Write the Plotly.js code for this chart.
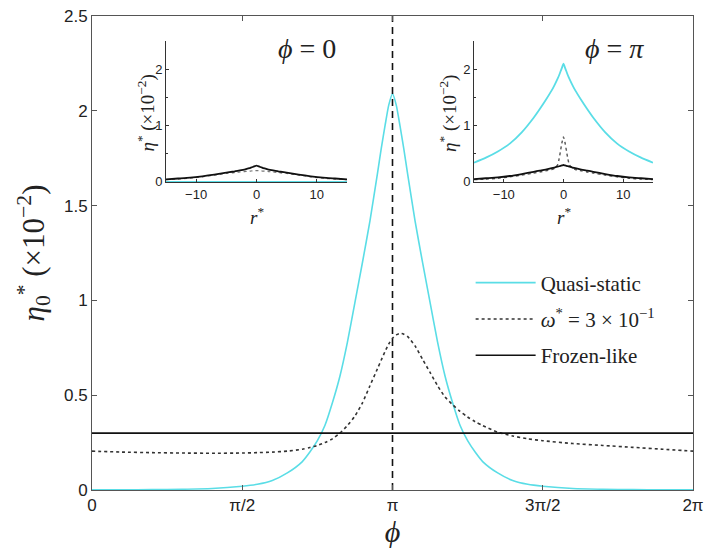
<!DOCTYPE html>
<html><head><meta charset="utf-8">
<script src="https://cdn.plot.ly/plotly-3.0.1.min.js"></script>
<style>html,body{margin:0;padding:0;background:#fff}#chart{width:709px;height:557px}</style>
</head><body><div id="chart"></div><script>
// ---- main panel: phi in units of pi ----
const phiOverPi = [0, 0.1, 0.2, 0.3, 0.4, 0.5, 0.55, 0.6, 0.65, 0.7, 0.725, 0.75, 0.775, 0.8, 0.825, 0.85, 0.875, 0.9, 0.925, 0.95, 0.9625, 0.975, 0.9875, 1.0, 1.0125, 1.025, 1.0375, 1.05, 1.075, 1.1, 1.125, 1.15, 1.175, 1.2, 1.225, 1.25, 1.275, 1.3, 1.35, 1.4, 1.45, 1.5, 1.6, 1.7, 1.8, 1.9, 2.0];
const quasiStatic = [0.001, 0.001, 0.002, 0.004, 0.008, 0.02, 0.03, 0.05, 0.09, 0.15, 0.2, 0.26, 0.34, 0.46, 0.6, 0.78, 0.99, 1.2, 1.42, 1.67, 1.8, 1.92, 2.03, 2.09, 2.03, 1.92, 1.8, 1.67, 1.42, 1.2, 0.99, 0.78, 0.6, 0.46, 0.34, 0.26, 0.2, 0.15, 0.09, 0.05, 0.03, 0.02, 0.008, 0.004, 0.002, 0.001, 0.001];
const omegaCase = [0.205, 0.2, 0.197, 0.195, 0.194, 0.195, 0.197, 0.2, 0.205, 0.215, 0.224, 0.235, 0.25, 0.27, 0.3, 0.34, 0.39, 0.46, 0.55, 0.64, 0.685, 0.73, 0.77, 0.8, 0.818, 0.826, 0.822, 0.81, 0.76, 0.69, 0.62, 0.55, 0.49, 0.45, 0.415, 0.385, 0.36, 0.34, 0.305, 0.285, 0.27, 0.26, 0.245, 0.235, 0.225, 0.215, 0.205];
const frozenPhiOverPi = [0, 0.5, 1, 1.5, 2];
const frozenLike = [0.3, 0.3, 0.3, 0.3, 0.3];
const markerPhiOverPi = [1, 1];
const markerY = [0, 2.5];
const xTickVals = [0, 0.5, 1, 1.5, 2];
const xTickText = ['0', 'π/2', 'π', '3π/2', '2π'];

// ---- insets ----
const rStar = [-15, -13, -11, -9, -7, -5, -4, -3, -2, -1.5, -1, -0.75, -0.5, -0.25, 0, 0.25, 0.5, 0.75, 1, 1.5, 2, 3, 4, 5, 7, 9, 11, 13, 15];
// phi = 0
const inset0Quasi = [0,0,0,0,0,0,0,0,0,0,0,0,0,0,0,0,0,0,0,0,0,0,0,0,0,0,0,0,0];
const inset0Omega = [0.04, 0.05, 0.065, 0.09, 0.12, 0.15, 0.16, 0.172, 0.183, 0.188, 0.193, 0.195, 0.197, 0.199, 0.2, 0.199, 0.197, 0.195, 0.193, 0.188, 0.183, 0.172, 0.16, 0.15, 0.12, 0.09, 0.065, 0.05, 0.04];
const inset0Frozen = [0.045, 0.06, 0.075, 0.1, 0.13, 0.165, 0.18, 0.2, 0.22, 0.235, 0.25, 0.26, 0.27, 0.28, 0.29, 0.28, 0.27, 0.26, 0.25, 0.235, 0.22, 0.2, 0.18, 0.165, 0.13, 0.1, 0.075, 0.06, 0.045];
// phi = pi
const insetPiQuasi = [0.34, 0.43, 0.54, 0.68, 0.88, 1.14, 1.29, 1.45, 1.62, 1.72, 1.83, 1.89, 1.96, 2.03, 2.1, 2.03, 1.96, 1.89, 1.83, 1.72, 1.62, 1.45, 1.29, 1.14, 0.88, 0.68, 0.54, 0.43, 0.34];
const insetPiOmega = [0.04, 0.05, 0.065, 0.09, 0.12, 0.155, 0.175, 0.195, 0.22, 0.24, 0.3, 0.4, 0.55, 0.7, 0.8, 0.7, 0.55, 0.4, 0.3, 0.24, 0.22, 0.195, 0.175, 0.155, 0.12, 0.09, 0.065, 0.05, 0.04];
const insetPiFrozen = [0.05, 0.065, 0.08, 0.105, 0.14, 0.18, 0.2, 0.22, 0.245, 0.255, 0.27, 0.278, 0.285, 0.292, 0.3, 0.292, 0.285, 0.278, 0.27, 0.255, 0.245, 0.22, 0.2, 0.18, 0.14, 0.105, 0.08, 0.065, 0.05];

const PI = Math.PI;
const toPhi = a => a.map(v => v * PI);
const CYAN = '#5adde6';
const DOT = '#333333';
const BLACK = '#111111';
const serif = 'Liberation Serif, DejaVu Serif, serif';
const sans = 'Liberation Sans, Arial, sans-serif';

const traces = [
  {x: toPhi(phiOverPi), y: quasiStatic, mode: 'lines', name: 'Quasi-static', legendgroup: 'a',
   line: {color: CYAN, width: 1.6, shape: 'spline', smoothing: 0.6}},
  {x: toPhi(phiOverPi), y: omegaCase, mode: 'lines', name: '<i>ω</i><sup>*</sup> = 3 × 10<sup>−1</sup>', legendgroup: 'b',
   line: {color: DOT, width: 1.6, dash: 'dot', shape: 'spline', smoothing: 0.6}},
  {x: toPhi(frozenPhiOverPi), y: frozenLike, mode: 'lines', name: 'Frozen-like', legendgroup: 'c',
   line: {color: BLACK, width: 1.6}},
  {x: toPhi(markerPhiOverPi), y: markerY, mode: 'lines', showlegend: false,
   line: {color: BLACK, width: 1.6, dash: '7px,5px'}},
  // inset phi=0
  {x: rStar, y: inset0Quasi, xaxis: 'x2', yaxis: 'y2', mode: 'lines', showlegend: false, line: {color: CYAN, width: 2}},
  {x: rStar, y: inset0Omega, xaxis: 'x2', yaxis: 'y2', mode: 'lines', showlegend: false, line: {color: '#777', width: 1.2, dash: 'dot', shape: 'spline', smoothing: 0.5}},
  {x: rStar, y: inset0Frozen, xaxis: 'x2', yaxis: 'y2', mode: 'lines', showlegend: false, line: {color: BLACK, width: 1.8, shape: 'spline', smoothing: 0.5}},
  // inset phi=pi
  {x: rStar, y: insetPiQuasi, xaxis: 'x3', yaxis: 'y3', mode: 'lines', showlegend: false, line: {color: CYAN, width: 1.8, shape: 'spline', smoothing: 0.5}},
  {x: rStar, y: insetPiOmega, xaxis: 'x3', yaxis: 'y3', mode: 'lines', showlegend: false, line: {color: '#555', width: 1.4, dash: 'dot', shape: 'spline', smoothing: 0.5}},
  {x: rStar, y: insetPiFrozen, xaxis: 'x3', yaxis: 'y3', mode: 'lines', showlegend: false, line: {color: BLACK, width: 1.8, shape: 'spline', smoothing: 0.5}}
];

const insetX = (dom, anchor) => ({
  domain: dom, anchor: anchor, range: [-15, 15], showline: true, linecolor: '#333', linewidth: 1,
  ticks: 'inside', ticklen: 3, tickcolor: '#333', tickvals: [-10, 0, 10], showgrid: false, zeroline: false,
  tickfont: {family: sans, size: 13, color: '#222'}, mirror: false
});
const insetY = (dom, anchor) => ({
  domain: dom, anchor: anchor, range: [0, 2.5], showline: true, linecolor: '#333', linewidth: 1,
  ticks: 'inside', ticklen: 3, tickcolor: '#333', tickvals: [0, 1, 2], showgrid: false, zeroline: false,
  tickfont: {family: sans, size: 13, color: '#222'}, mirror: false,
  minor: {tickvals: [0.5, 1.5], ticks: 'inside', ticklen: 2, tickcolor: '#333'}
});

const insetYDom = [0.65, 0.947];
const ann = (x, y, text, size, angle) => ({
  xref: 'paper', yref: 'paper', x: x, y: y, xanchor: 'center', yanchor: 'middle',
  text: text, textangle: angle || 0, showarrow: false,
  font: {family: serif, size: size, color: '#222'}
});
const layout = {
  width: 709, height: 557,
  margin: {l: 92, r: 16, t: 16, b: 67},
  paper_bgcolor: '#fff', plot_bgcolor: '#fff',
  showlegend: true,
  font: {family: sans, color: '#222'},
  xaxis: {
    range: [0, 2 * PI], tickvals: toPhi(xTickVals), ticktext: xTickText,
    showline: true, mirror: 'ticks', linecolor: '#555', linewidth: 1,
    ticks: 'inside', ticklen: 5, tickcolor: '#555', showgrid: false, zeroline: false,
    tickfont: {family: sans, size: 17, color: '#222'},
    title: {text: '<i>ϕ</i>', font: {family: serif, size: 30, color: '#222'}, standoff: 6}
  },
  yaxis: {
    range: [0, 2.5], tickvals: [0, 0.5, 1, 1.5, 2, 2.5], ticktext: ['0', '0.5', '1', '1.5', '2', '2.5'],
    showline: true, mirror: 'ticks', linecolor: '#555', linewidth: 1,
    ticks: 'inside', ticklen: 5, tickcolor: '#555', showgrid: false, zeroline: false,
    tickfont: {family: sans, size: 17, color: '#222'},
    title: {text: '<i>η</i><sub>0</sub><sup>*</sup> (×10<sup>−2</sup>)', font: {family: serif, size: 31, color: '#222'}, standoff: 10}
  },
  xaxis2: insetX([0.1231, 0.4243], 'y2'),
  yaxis2: insetY(insetYDom, 'x2'),
  xaxis3: insetX([0.6356, 0.9334], 'y3'),
  yaxis3: insetY(insetYDom, 'x3'),
  legend: {
    x: 0.63, y: 0.48, xanchor: 'left', yanchor: 'top', bgcolor: 'rgba(255,255,255,0)',
    font: {family: serif, size: 21, color: '#222'}, tracegroupgap: 6, itemwidth: 60
  },
  annotations: [
    ann(0.358, 0.932, '<i>ϕ</i> = 0', 28),
    ann(0.87, 0.932, '<i>ϕ</i> = <i>π</i>', 28),
    ann(0.0905, 0.795, '<i>η</i><sup>*</sup> (×10<sup>−2</sup>)', 19, -90),
    ann(0.592, 0.795, '<i>η</i><sup>*</sup> (×10<sup>−2</sup>)', 19, -90),
    ann(0.2745, 0.578, '<i>r</i><sup>*</sup>', 19),
    ann(0.7854, 0.578, '<i>r</i><sup>*</sup>', 19)
  ]
};

Plotly.newPlot('chart', traces, layout, {displayModeBar: false, staticPlot: true});
</script></body></html>
